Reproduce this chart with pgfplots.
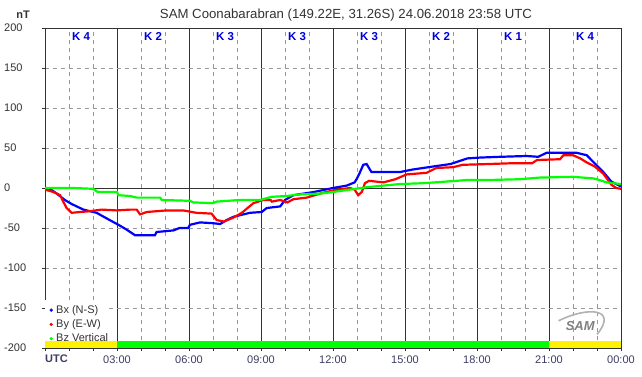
\documentclass[border=0pt]{standalone}
\usepackage{fontspec}
\setmainfont{Liberation Sans}
\usepackage{pgfplots}
\pgfplotsset{compat=1.18}
\definecolor{axgray}{HTML}{333333}
\definecolor{gridgray}{HTML}{999999}
\definecolor{ticklab}{HTML}{3C3C64}
\definecolor{klab}{HTML}{0000DD}
\definecolor{ygreen}{HTML}{00FF00}
\definecolor{bxblue}{HTML}{0000FF}
\definecolor{byred}{HTML}{FF0000}
\tikzset{klabel/.style={klab, font=\fontsize{11.5}{13}\selectfont\bfseries}}
\begin{document}
\begin{tikzpicture}[x=1pt,y=1pt]
\useasboundingbox[fill=white] (0,0) rectangle (642,376);
\node[axgray, font=\fontsize{13.2}{15}\selectfont] at (346,361) {SAM Coonabarabran (149.22E, 31.26S) 24.06.2018 23:58 UTC};
\node[axgray, font=\fontsize{11}{13}\selectfont\bfseries] at (23,361) {nT};
\begin{axis}[
 at={(45pt,28pt)}, anchor=south west, scale only axis, width=576pt, height=320pt,
 xmin=0, xmax=24, ymin=-200, ymax=200,
 clip mode=individual,
 axis line style={axgray, line width=1pt},
 xtick={0,3,...,24},
 xticklabels={,03:00,06:00,09:00,12:00,15:00,18:00,21:00,00:00},
 minor xtick={1,2,4,5,7,8,10,11,13,14,16,17,19,20,22,23},
 ytick={-200,-150,...,200},
 tick align=outside, major tick length=3pt, minor tick length=3pt,
 tick style={axgray, line width=0.8pt},
 xtick pos=left, ytick pos=left,
 xmajorgrids, xminorgrids, ymajorgrids,
 major x grid style={axgray, line width=1pt},
 minor x grid style={gridgray, dash pattern=on 4pt off 4pt, line width=0.8pt},
 major y grid style={gridgray, dash pattern=on 4pt off 4pt, line width=0.8pt},
 ticklabel style={font=\fontsize{11}{13}\selectfont},
 xticklabel style={ticklab, yshift=-1pt},
 yticklabel style={axgray, anchor=west, xshift=-38pt, inner sep=0pt},
 /pgf/number format/assume math mode=true,
 legend style={at={(axis cs:0,-197)}, anchor=south west, draw=none, fill=none,
   font=\fontsize{11}{12}\selectfont, text=axgray, inner xsep=1pt, inner ysep=0pt, row sep=0.8pt,
   /tikz/every even column/.append style={column sep=0pt}},
 legend cell align=left,
]
\fill[white] (axis cs:0,-140) rectangle (axis cs:2.6,-191);
\fill[yellow] (axis cs:0,-200) rectangle (axis cs:3,-191);
\fill[ygreen] (axis cs:3,-200) rectangle (axis cs:21,-191);
\fill[yellow] (axis cs:21,-200) rectangle (axis cs:24,-191);
\draw[axgray, line width=1pt] (axis cs:0,0) -- (axis cs:24,0);
\node[klabel] at (axis cs:1.5,189) {K 4};
\node[klabel] at (axis cs:4.5,189) {K 2};
\node[klabel] at (axis cs:7.5,189) {K 3};
\node[klabel] at (axis cs:10.5,189) {K 3};
\node[klabel] at (axis cs:13.5,189) {K 3};
\node[klabel] at (axis cs:16.5,189) {K 2};
\node[klabel] at (axis cs:19.5,189) {K 1};
\node[klabel] at (axis cs:22.5,189) {K 4};
\node[gray, font=\fontsize{13}{13}\selectfont\bfseries\itshape] at (axis cs:22.3,-172) {SAM};
\draw[gray!60, line width=1.6pt] (axis cs:21.4,-166) .. controls (axis cs:22.6,-148) and (axis cs:23.9,-150) .. (axis cs:23.0,-183);

\addplot[bxblue, line width=2.2pt, forget plot] coordinates {
(0,0) (0.2,-1) (0.49,-7) (0.83,-15) (1.11,-20) (1.6,-27) (2.15,-31) (2.57,-38) (3.06,-46) (3.4,-52) (3.75,-59) (4.58,-59) (4.65,-55) (5.35,-53) (5.6,-50) (5.97,-50) (6.04,-46) (6.46,-43) (7.0,-44) (7.3,-45) (7.57,-40) (7.85,-36) (8.54,-31) (9.03,-30) (9.24,-25) (9.8,-23) (10.0,-15) (10.35,-9) (11.2,-5) (12.0,0) (12.57,3) (12.9,7) (13.0,12) (13.1,18) (13.26,29) (13.4,30) (13.6,20) (13.96,20) (14.8,20) (15.3,23) (16.2,27) (16.9,30) (17.6,37) (18.1,38) (18.96,39) (20.07,40) (20.55,39) (20.9,44) (21.46,44) (22.15,44) (22.57,41) (22.9,31) (23.26,20) (23.6,8) (23.96,2.5) (24,2)
};
\addplot[byred, line width=2.2pt, forget plot] coordinates {
(0,-2) (0.35,-5) (0.63,-9) (0.76,-17) (0.9,-25) (1.11,-31) (1.46,-30) (1.875,-29) (2.36,-27) (2.99,-28) (3.54,-27) (3.82,-27) (3.96,-33) (4.24,-30) (5.07,-28) (5.76,-28) (6.3,-31) (6.94,-32) (7.15,-40) (7.45,-42) (7.85,-37) (8.2,-31) (8.68,-19) (9.1,-15) (9.4,-15) (9.45,-17) (9.8,-15) (10.1,-18) (10.35,-14) (10.9,-12) (11.46,-7) (12.0,-3) (12.7,0) (12.9,-2) (13.05,-9) (13.2,-5) (13.33,6) (13.5,9) (14.1,7) (14.6,11) (15.07,17) (15.9,19) (16.3,25) (17.0,26) (17.4,29) (18.5,30) (19.5,31) (20.3,31) (20.5,35) (21.46,36) (21.6,41) (22.0,41) (22.3,37) (22.57,32) (22.9,27) (23.26,18) (23.6,4) (23.8,0) (24,-1)
};
\addplot[ygreen, line width=2.2pt, forget plot] coordinates {
(0,0) (1.18,0) (2.0,-1) (2.2,-5) (3.0,-5) (3.06,-9) (3.54,-10) (3.82,-12) (4.8,-12) (4.86,-15) (6.04,-16) (6.18,-18) (7.0,-19) (7.15,-17) (8.1,-15) (8.96,-15) (9.45,-11) (10.07,-10) (10.6,-8) (11.46,-7) (12.0,-5) (12.7,-2) (13.4,1) (14.1,3) (14.8,5) (15.76,6) (16.7,8) (17.6,10) (18.5,10) (19.8,11) (20.6,13) (22.0,14) (22.85,12) (23.1,10) (23.4,7) (23.96,5) (24,5)
};
\addlegendimage{legend image code/.code={\path[draw=none,fill=none] (0,0) -- (8pt,0); \fill[bxblue] (5pt,0) circle (1.4pt);}}
\addlegendentry{Bx (N-S)}
\addlegendimage{legend image code/.code={\path[draw=none,fill=none] (0,0) -- (8pt,0); \fill[byred] (5pt,0) circle (1.4pt);}}
\addlegendentry{By (E-W)}
\addlegendimage{legend image code/.code={\path[draw=none,fill=none] (0,0) -- (8pt,0); \fill[ygreen] (5pt,0) circle (1.4pt);}}
\addlegendentry{Bz Vertical}
\node[ticklab, font=\fontsize{11}{13}\selectfont\bfseries, anchor=north west, inner sep=0pt] at ([yshift=-7pt]axis cs:0,-200) {UTC};
\end{axis}
\end{tikzpicture}
\end{document}
